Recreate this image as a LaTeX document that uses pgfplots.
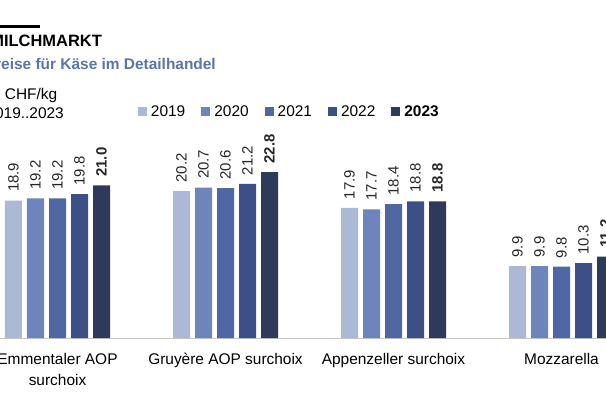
\documentclass[border=0pt]{standalone}
\usepackage{pgfplots}
\pgfplotsset{compat=1.18}
\usepackage{fontspec}
\setmainfont{Liberation Sans}
\definecolor{c19}{HTML}{ABB8D6}
\definecolor{c20}{HTML}{6E84BC}
\definecolor{c21}{HTML}{4F68A4}
\definecolor{c22}{HTML}{3C5087}
\definecolor{c23}{HTML}{2D3A5A}
\definecolor{subc}{HTML}{5B74AA}
\definecolor{basec}{HTML}{C8C8C8}
\begin{document}
\begin{tikzpicture}
\useasboundingbox (0bp,0bp) rectangle (606bp,402bp);
\clip (0bp,0bp) rectangle (606bp,402bp);
\fill[white] (0bp,0bp) rectangle (606bp,402bp);
\fill[black] (0bp,373.7bp) rectangle (40bp,377.2bp);
\node[anchor=base east, inner sep=0pt, font=\fontsize{16.5}{20}\selectfont\bfseries] at (102bp,355.3bp) {MILCHMARKT};
\node[anchor=base east, inner sep=0pt, font=\fontsize{15.5}{19}\selectfont\bfseries, text=subc] at (216bp,332.7bp) {Preise für Käse im Detailhandel};
\node[anchor=base east, inner sep=0pt, font=\fontsize{15.5}{19}\selectfont] at (57.5bp,302bp) {in CHF/kg};
\node[anchor=base east, inner sep=0pt, font=\fontsize{15.5}{19}\selectfont] at (64bp,283bp) {2019..2023};
\begin{axis}[
  at={(0bp,64bp)}, anchor=south west,
  scale only axis, width=606bp, height=338bp,
  xmin=-0.34226, xmax=3.26488, ymin=0, ymax=46.49,
  axis y line=none, axis x line=bottom,
  x axis line style={draw=basec, line width=1bp, -},
  xtick={0,1,2,3},
  xticklabels={{Emmentaler AOP\\surchoix},{Gruyère AOP surchoix},{Appenzeller surchoix},{Mozzarella}},
  xticklabel style={align=center, font=\fontsize{15.5}{21}\selectfont, inner sep=0pt, yshift=-14.7bp},
  major tick length=0pt,
  ybar=5bp, bar width=17bp,
  clip=false,
  /pgf/number format/assume math mode=true,
  nodes near coords={\pgfmathprintnumber[fixed,fixed zerofill,precision=1]{\pgfplotspointmeta}},
  every node near coord/.append style={inner sep=0pt, yshift=8.5bp, rotate=90, anchor=west, font=\fontsize{15}{18}\selectfont, text=black!85},
  legend style={at={(0.2277,0.6701)}, anchor=west, draw=none, fill=none, inner sep=0pt, outer sep=0pt,
    /tikz/every even column/.append style={column sep=16bp},
    /tikz/every odd column/.append style={column sep=4bp},
    font=\fontsize{15.5}{19}\selectfont, nodes={inner sep=0pt}, cells={anchor=west}},
  legend columns=-1,
  legend image code/.code={\fill[#1] (0bp,-4.5bp) rectangle (9bp,4.5bp);},
]
\addplot[fill=c19, draw=none] coordinates {(0,18.9) (1,20.2) (2,17.9) (3,9.9)};
\addplot[fill=c20, draw=none] coordinates {(0,19.2) (1,20.7) (2,17.7) (3,9.9)};
\addplot[fill=c21, draw=none] coordinates {(0,19.2) (1,20.6) (2,18.4) (3,9.8)};
\addplot[fill=c22, draw=none] coordinates {(0,19.8) (1,21.2) (2,18.8) (3,10.3)};
\addplot[fill=c23, draw=none, every node near coord/.append style={font=\fontsize{15}{18}\selectfont\bfseries}] coordinates {(0,21.0) (1,22.8) (2,18.8) (3,11.2)};
\legend{2019,2020,2021,2022,\textbf{2023}}
\end{axis}
\end{tikzpicture}
\end{document}
